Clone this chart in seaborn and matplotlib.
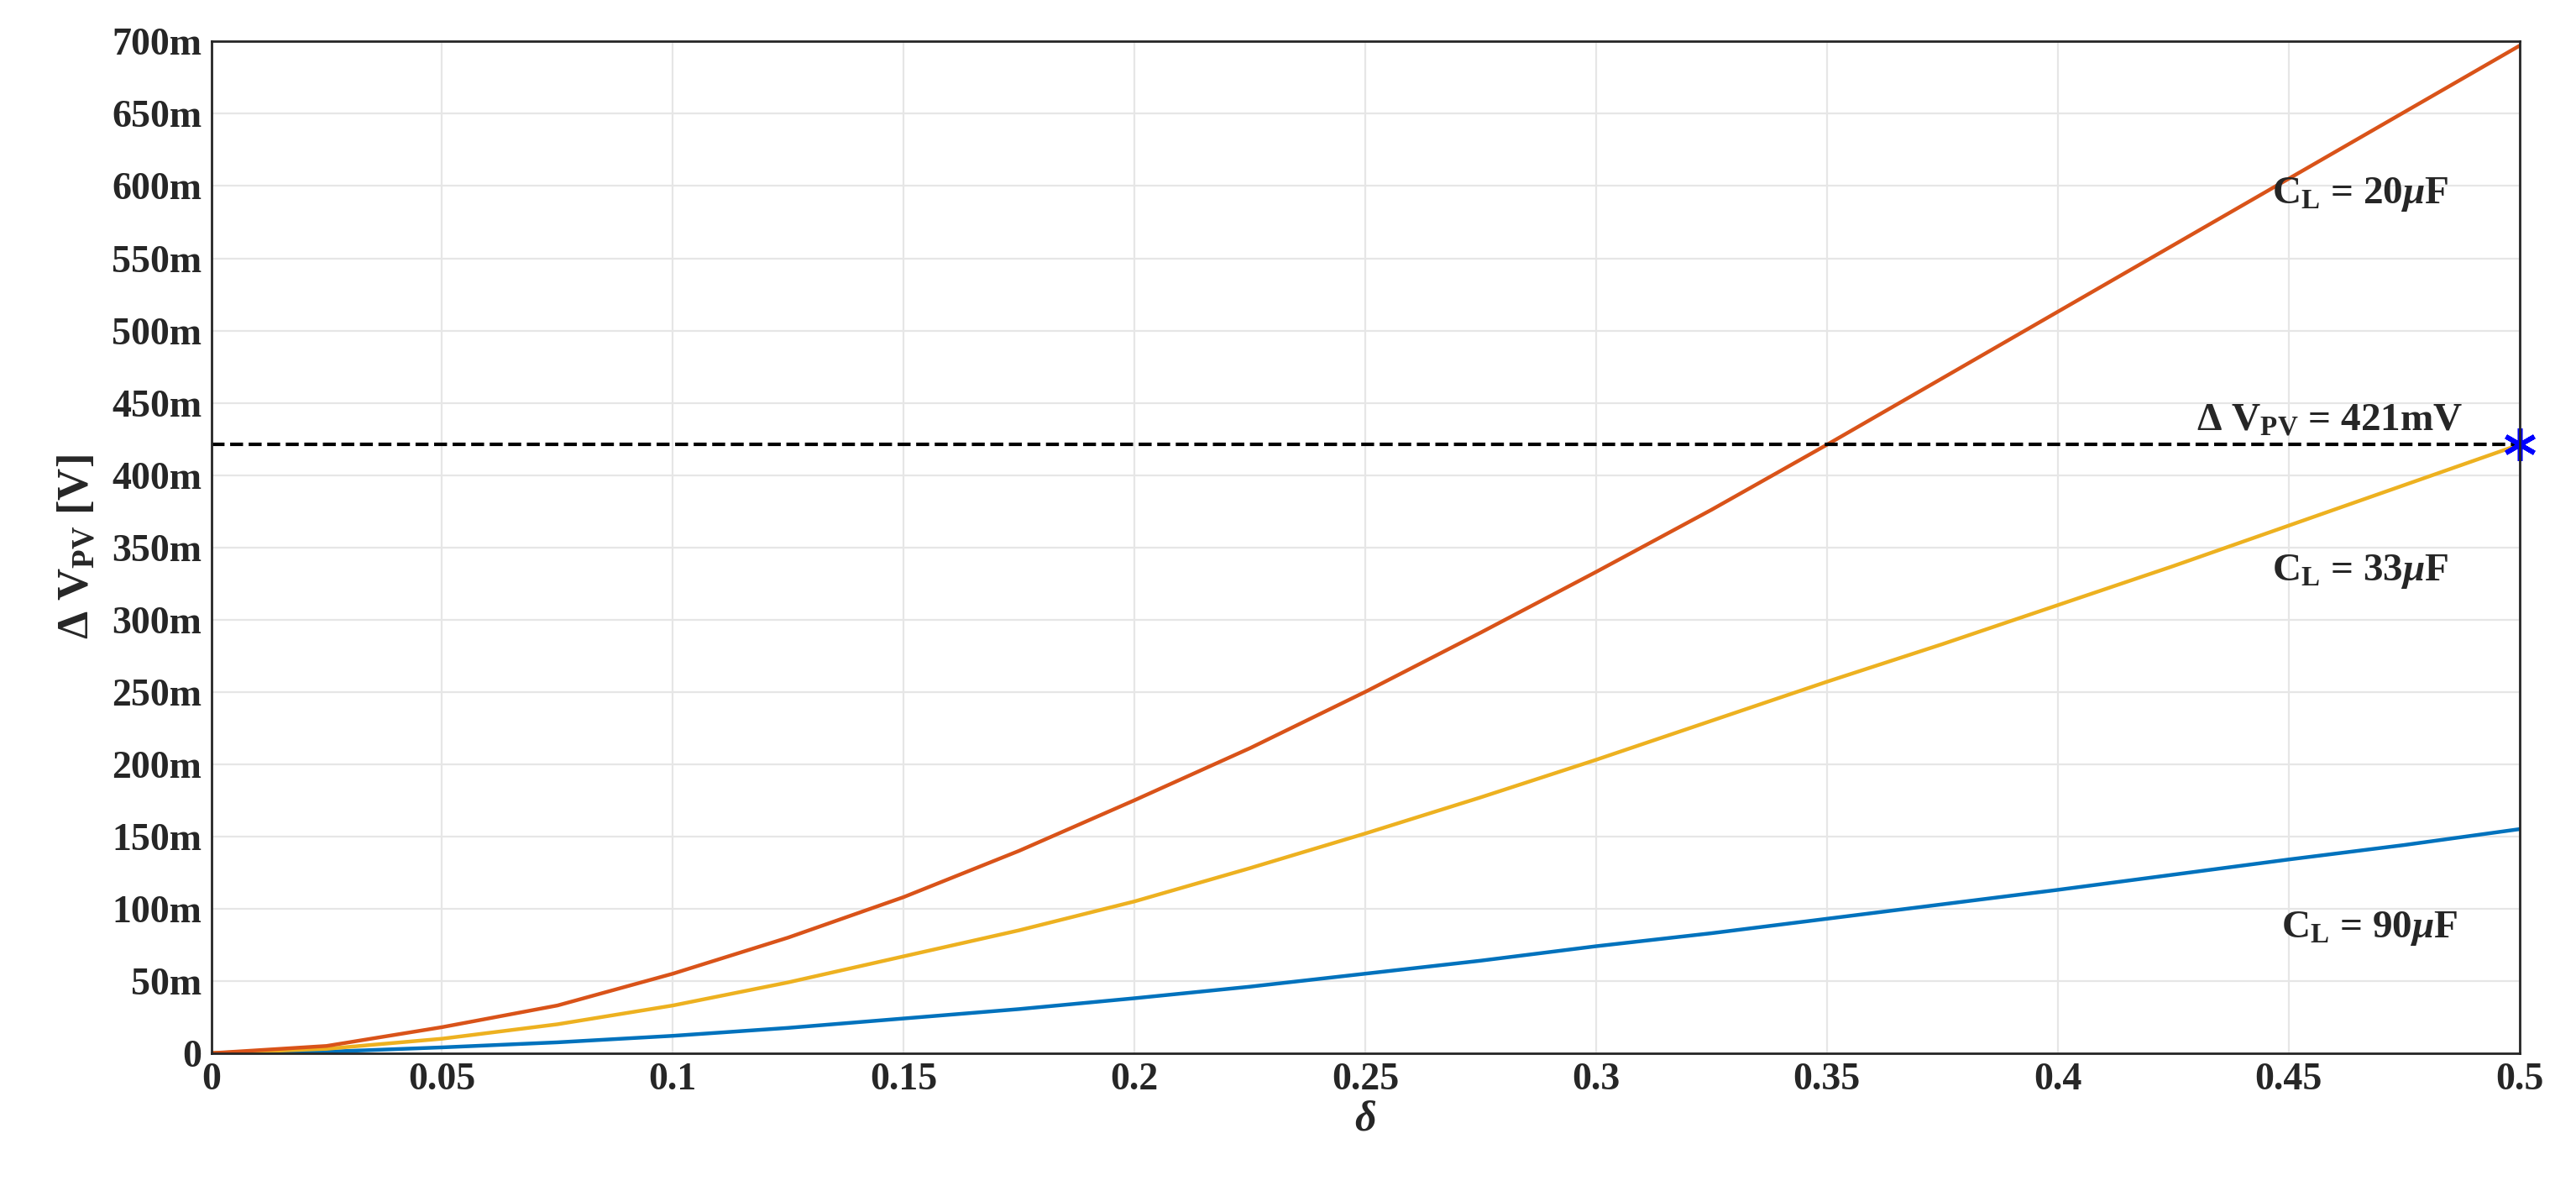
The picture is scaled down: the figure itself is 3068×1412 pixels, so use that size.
import matplotlib
matplotlib.use("Agg")
import matplotlib.pyplot as plt
import seaborn as sns
import pandas as pd
from matplotlib.ticker import FuncFormatter, MultipleLocator

# duty cycle and ripple values (V)
delta = [0, 0.025, 0.05, 0.075, 0.1, 0.125, 0.15, 0.175, 0.2, 0.225, 0.25,
         0.275, 0.3, 0.325, 0.35, 0.375, 0.4, 0.425, 0.45, 0.475, 0.5]
dv_20uF = [0, 0.005, 0.018, 0.033, 0.055, 0.080, 0.108, 0.140, 0.175, 0.211, 0.250,
           0.291, 0.333, 0.376, 0.421, 0.467, 0.513, 0.559, 0.605, 0.651, 0.697]
dv_33uF = [0, 0.003, 0.010, 0.020, 0.033, 0.049, 0.067, 0.085, 0.105, 0.128, 0.152,
           0.177, 0.203, 0.230, 0.257, 0.283, 0.310, 0.337, 0.365, 0.393, 0.421]
dv_90uF = [0, 0.001, 0.004, 0.0075, 0.012, 0.0175, 0.024, 0.0305, 0.038, 0.046, 0.055,
           0.064, 0.074, 0.083, 0.093, 0.103, 0.113, 0.1235, 0.134, 0.144, 0.155]
dv_limit = 0.421

sns.set_style("whitegrid")
plt.rcParams['font.family'] = ['Liberation Serif', 'DejaVu Serif']
plt.rcParams['font.weight'] = 'bold'
plt.rcParams['mathtext.fontset'] = 'custom'
plt.rcParams['mathtext.rm'] = 'Liberation Serif:bold'
plt.rcParams['mathtext.it'] = 'Liberation Serif:italic:bold'
plt.rcParams['mathtext.bf'] = 'Liberation Serif:bold'

df = pd.DataFrame({"delta": delta, "20": dv_20uF, "33": dv_33uF, "90": dv_90uF})

fig = plt.figure(figsize=(15.34, 7.06), dpi=200)
ax = fig.add_axes([0.082, 0.112, 0.896, 0.853])

sns.lineplot(data=df, x="delta", y="90", ax=ax, color="#0072BD", lw=1.6)
sns.lineplot(data=df, x="delta", y="33", ax=ax, color="#EDB120", lw=1.6)
sns.lineplot(data=df, x="delta", y="20", ax=ax, color="#D95319", lw=1.6)
ax.axhline(dv_limit, color="black", ls="--", lw=1.5)
ax.plot([0.5], [dv_limit], marker=(6, 2, 0), color="blue", ms=14, mew=2, clip_on=False)

ax.set_xlim(0, 0.5)
ax.set_ylim(0, 0.7)
ax.xaxis.set_major_locator(MultipleLocator(0.05))
ax.yaxis.set_major_locator(MultipleLocator(0.05))
ax.xaxis.set_major_formatter(FuncFormatter(lambda v, p: "0" if abs(v) < 1e-9 else f"{v:g}"))
ax.yaxis.set_major_formatter(FuncFormatter(lambda v, p: "0" if abs(v) < 1e-9 else f"{round(v*1000):d}m"))
ax.tick_params(labelsize=16.5, direction="in", length=5, colors="#262626", pad=4)
for lab in ax.get_xticklabels() + ax.get_yticklabels():
    lab.set_fontweight("bold")
ax.grid(True, color="#e6e6e6", lw=0.8)
for s in ax.spines.values():
    s.set_color("#262626")
    s.set_linewidth(1)

ax.set_xlabel(r"$\delta$", fontsize=18, fontweight="normal", labelpad=1)
ax.set_ylabel(r"$\Delta$ V$_{\mathbf{PV}}$ [V]", fontsize=19, fontweight="bold", labelpad=6)

lbl = dict(fontsize=17, fontweight="bold")
ax.text(0.4465, 0.588, r"C$_{\mathbf{L}}$ = 20$\mu$F", **lbl)
ax.text(0.4465, 0.327, r"C$_{\mathbf{L}}$ = 33$\mu$F", **lbl)
ax.text(0.4485, 0.080, r"C$_{\mathbf{L}}$ = 90$\mu$F", **lbl)
ax.text(0.430, 0.431, r"$\Delta$ V$_{\mathbf{PV}}$ = 421mV", **lbl)

fig.savefig("out.png", dpi=200)
